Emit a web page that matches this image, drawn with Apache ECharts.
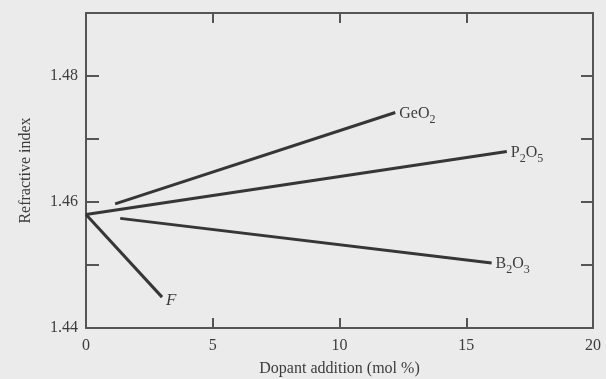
<!DOCTYPE html>
<html>
<head>
<meta charset="utf-8">
<script src="https://cdn.jsdelivr.net/npm/echarts@6/dist/echarts.min.js"></script>
<style>
html,body{margin:0;padding:0;background:#ebebeb;}
#c{width:606px;height:379px;}
</style>
</head>
<body>
<div id="c"></div>
<script>
// Data (x: mol %, y: refractive index)
var xTicks = [0, 5, 10, 15, 20];
var yTicks = [1.44, 1.46, 1.48];
var geo2X = [1.15, 12.2];
var geo2Y = [1.4597, 1.4742];
var p2o5X = [0, 16.6];
var p2o5Y = [1.458, 1.468];
var b2o3X = [1.35, 16.0];
var b2o3Y = [1.4574, 1.4503];
var fX = [0, 3.0];
var fY = [1.458, 1.4449];
var seriesNames = ['GeO2', 'P2O5', 'B2O3', 'F'];
var labelTexts = ['{a|GeO}{s|2}', '{a|P}{s|2}{a|O}{s|5}', '{a|B}{s|2}{a|O}{s|3}', '{i|F}'];

var ink = '#363636';
var txt = '#3c3c3c';
var font = '"Liberation Serif", "DejaVu Serif", serif';
var rich = {
  a: {fontFamily: font, fontSize: 16, color: txt, lineHeight: 18, verticalAlign: 'bottom'},
  s: {fontFamily: font, fontSize: 12, color: txt, lineHeight: 18, verticalAlign: 'bottom', padding: [0,0,-4,0]},
  i: {fontFamily: font, fontSize: 17, fontStyle: 'italic', color: txt, padding: [6,0,0,0]}
};

function mk(name, xs, ys, lbl) {
  var data = xs.map(function (x, i) { return [x, ys[i]]; });
  return {
    name: name, type: 'line', data: data, showSymbol: false, symbol: 'none',
    lineStyle: {color: ink, width: 3}, silent: true, animation: false,
    endLabel: {show: true, distance: 4, formatter: lbl, rich: rich}
  };
}

var axisLineStyle = {color: '#555', width: 2};
var chart = echarts.init(document.getElementById('c'));
chart.setOption({
  backgroundColor: '#ebebeb',
  animation: false,
  grid: {left: 86, right: 13, top: 13, bottom: 51, containLabel: false, outerBoundsMode: 'none'},
  xAxis: [{
    type: 'value', min: 0, max: 20, interval: 5,
    name: 'Dopant addition (mol %)', nameLocation: 'middle', nameGap: 33,
    nameTextStyle: {fontFamily: font, fontSize: 16, color: txt},
    axisLine: {show: true, onZero: false, lineStyle: axisLineStyle},
    axisTick: {show: true, inside: true, length: 10, lineStyle: axisLineStyle},
    axisLabel: {fontFamily: font, fontSize: 16, color: txt, margin: 10,
      formatter: function (v) { return xTicks.indexOf(v) >= 0 ? String(v) : ''; }},
    splitLine: {show: false}
  }, {
    type: 'value', min: 0, max: 20, interval: 5, position: 'top',
    axisLine: {show: true, onZero: false, lineStyle: axisLineStyle},
    axisTick: {show: true, inside: true, length: 10, lineStyle: axisLineStyle},
    axisLabel: {show: false}, splitLine: {show: false}
  }],
  yAxis: [{
    type: 'value', min: 1.44, max: 1.49, interval: 0.01,
    name: 'Refractive index', nameLocation: 'middle', nameGap: 52, nameRotate: 90,
    nameTextStyle: {fontFamily: font, fontSize: 16, color: txt},
    axisLine: {show: true, onZero: false, lineStyle: axisLineStyle},
    axisTick: {show: true, inside: true, length: 13, lineStyle: axisLineStyle},
    axisLabel: {fontFamily: font, fontSize: 16, color: txt, margin: 8,
      formatter: function (v) {
        for (var k = 0; k < yTicks.length; k++) { if (Math.abs(yTicks[k] - v) < 1e-6) return yTicks[k].toFixed(2); }
        return '';
      }},
    splitLine: {show: false}
  }, {
    type: 'value', min: 1.44, max: 1.49, interval: 0.01, position: 'right',
    axisLine: {show: true, onZero: false, lineStyle: axisLineStyle},
    axisTick: {show: true, inside: true, length: 12, lineStyle: axisLineStyle},
    axisLabel: {show: false}, splitLine: {show: false}
  }],
  series: [
    mk(seriesNames[0], geo2X, geo2Y, labelTexts[0]),
    mk(seriesNames[1], p2o5X, p2o5Y, labelTexts[1]),
    mk(seriesNames[2], b2o3X, b2o3Y, labelTexts[2]),
    mk(seriesNames[3], fX, fY, labelTexts[3])
  ]
});
</script>
</body>
</html>
